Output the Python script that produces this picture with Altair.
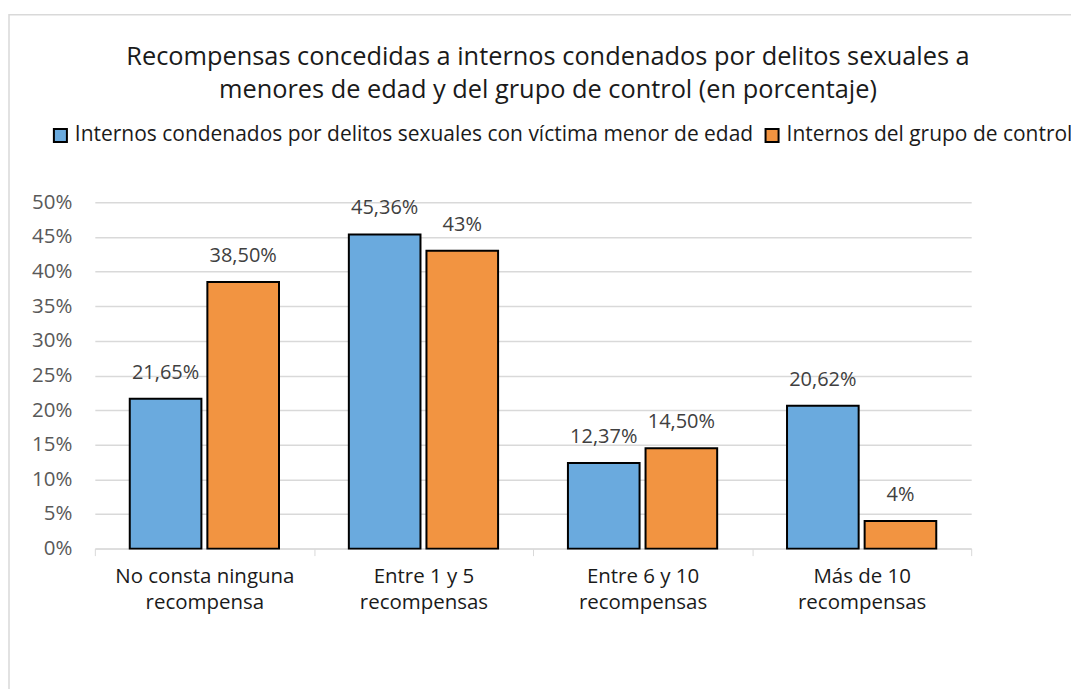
import altair as alt
import pandas as pd

categories = ["No consta ninguna recompensa", "Entre 1 y 5 recompensas",
              "Entre 6 y 10 recompensas", "Más de 10 recompensas"]
series_names = ["Internos condenados por delitos sexuales con víctima menor de edad",
                "Internos del grupo de control"]
values_menores = [21.65, 45.36, 12.37, 20.62]
values_control = [38.50, 43.0, 14.50, 4.0]
labels_menores = ["21,65%", "45,36%", "12,37%", "20,62%"]
labels_control = ["38,50%", "43%", "14,50%", "4%"]
colors = ["#6AAADE", "#F29441"]

rows = []
for i, c in enumerate(categories):
    rows.append({"cat": c, "serie": series_names[0], "v": values_menores[i] / 100, "lab": labels_menores[i]})
    rows.append({"cat": c, "serie": series_names[1], "v": values_control[i] / 100, "lab": labels_control[i]})
df = pd.DataFrame(rows)

FONT = "Open Sans"
W, H = 878, 347

x = alt.X("cat:N", sort=categories, title=None,
          scale=alt.Scale(paddingInner=0, paddingOuter=0),
          axis=alt.Axis(labelExpr="[slice(datum.label, 0, lastindexof(datum.label, ' ')), slice(datum.label, lastindexof(datum.label, ' ') + 1)]",
                        labelAngle=0, labelFontSize=20.5, labelFont=FONT, labelColor="#1A1A1A",
                        labelPadding=11, labelLineHeight=26, tickBand="extent", ticks=True,
                        tickSize=7, tickColor="#D9D9D9", domainColor="#D9D9D9", domainWidth=1,
                        grid=False, labelBaseline="top"))
xo = alt.XOffset("serie:N", sort=series_names,
                 scale=alt.Scale(paddingInner=0.077, paddingOuter=0.45))
y = alt.Y("v:Q", title=None,
          scale=alt.Scale(domain=[0, 0.5]),
          axis=alt.Axis(format=".0%", values=[i / 100 for i in range(0, 55, 5)],
                        labelFontSize=20.5, labelFont=FONT, labelColor="#595959",
                        labelPadding=23, ticks=False, domain=False,
                        gridColor="#D9D9D9", gridWidth=1.5))

frame = alt.Chart(pd.DataFrame({"a": [0]})).mark_rect(
    fill=None, stroke="#D9D9D9", strokeWidth=1.5
).encode(x=alt.value(-86), y=alt.value(-188), x2=alt.value(1200), y2=alt.value(800))

bars = alt.Chart(df).mark_bar(stroke="black", strokeWidth=2).encode(
    x=x, xOffset=xo, y=y,
    color=alt.Color("serie:N", sort=series_names,
                    scale=alt.Scale(domain=series_names, range=colors),
                    legend=alt.Legend(title=None, orient="none", direction="horizontal",
                                      legendX=-45, legendY=-78,
                                      symbolType="square", symbolSize=170,
                                      symbolStrokeColor="black", symbolStrokeWidth=2,
                                      labelFontSize=21, labelFont=FONT, labelColor="#1A1A1A",
                                      labelLimit=0, labelOffset=4, columnPadding=7)),
)

text = alt.Chart(df).mark_text(baseline="alphabetic", dy=-20, fontSize=20, font=FONT,
                               color="#404040").encode(
    x=x, xOffset=xo, y=y, text="lab:N")

chart = alt.layer(frame, bars, text).properties(
    width=W, height=H,
    autosize=alt.AutoSizeParams(type="none"),
    padding={"left": 87, "top": 194, "right": 100, "bottom": 140},
    title=alt.TitleParams(
        text=["Recompensas concedidas a internos condenados por delitos sexuales a",
              "menores de edad y del grupo de control (en porcentaje)"],
        fontSize=25.4, font=FONT, fontWeight="normal", color="#1A1A1A",
        anchor="middle", dx=15, offset=-90, lineHeight=33),
).configure_view(stroke=None)

chart.save("out.html", embed_options={"renderer": "svg", "actions": False})
